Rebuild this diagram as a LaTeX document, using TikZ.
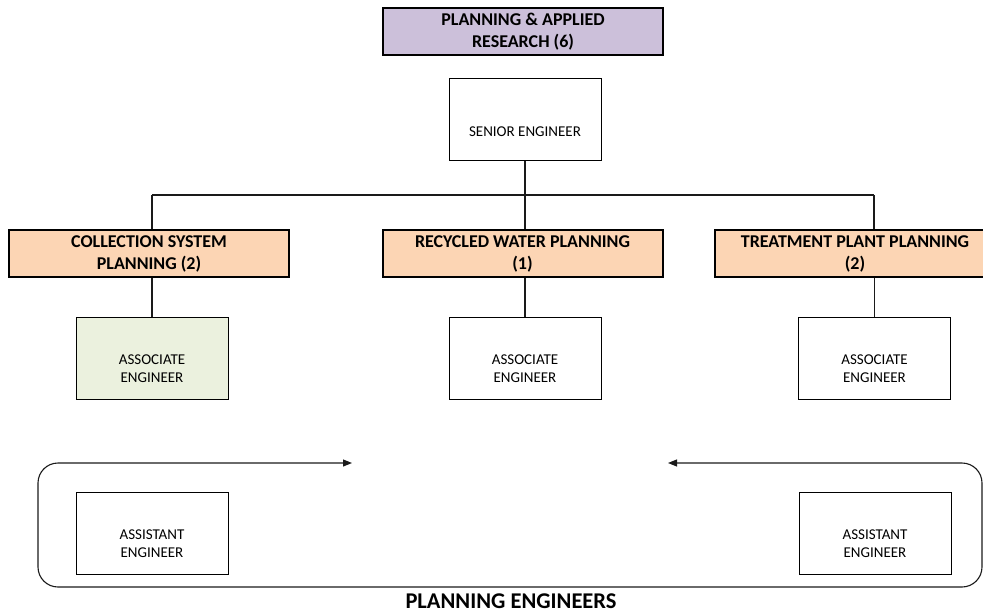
\documentclass[tikz,border=0pt]{standalone}
\usepackage{fontspec}
\setmainfont{Carlito}
\usetikzlibrary{arrows.meta}

\definecolor{headlav}{HTML}{CCC0DA}
\definecolor{headpeach}{HTML}{FCD5B4}
\definecolor{palegreen}{HTML}{EBF1DE}
\definecolor{inkline}{HTML}{1A1A1A}

\tikzset{
  headbox/.style={draw=black, line width=2pt, minimum width=280pt, minimum height=47pt,
    inner sep=0pt, align=center, font=\bfseries\fontsize{18}{22}\selectfont},
  headfill/.style={headbox, fill=headpeach},
  staffbox/.style={draw=black, line width=1pt, fill=white, minimum width=152pt,
    minimum height=82pt, inner sep=0pt},
  stafftext/.style={align=center, font=\fontsize{15}{18}\selectfont},
  link/.style={draw=inkline, line width=1.3pt},
  loopline/.style={draw=inkline, line width=1.1pt, rounded corners=20pt,
    {Triangle[length=9pt,width=7pt]}-{Triangle[length=9pt,width=7pt]}},
}

\begin{document}
\begin{tikzpicture}[x=1pt, y=-1pt]
  \useasboundingbox (0,0) rectangle (983,613);
  \clip (0,0) rectangle (983,613);

  % division heading
  \node[headbox, fill=headlav] (par) at (523,31.5) {PLANNING \& APPLIED\\RESEARCH (6)};

  % senior engineer
  \node[staffbox] (sen) at (525,119) {};
  \node[stafftext] (senT) at (525,132) {SENIOR ENGINEER};

  % group headings
  \node[headfill] (col) at (149,253.5) {COLLECTION SYSTEM\\PLANNING (2)};
  \node[headfill] (rec) at (522.5,253.5) {RECYCLED WATER PLANNING\\(1)};
  \node[headfill] (trt) at (855,253.5) {TREATMENT PLANT PLANNING\\(2)};

  % associate engineers
  \node[staffbox, fill=palegreen] (acol) at (152,358) {};
  \node[stafftext] (acolT) at (152,369) {ASSOCIATE\\ENGINEER};
  \node[staffbox] (arec) at (525,358) {};
  \node[stafftext] (arecT) at (525,369) {ASSOCIATE\\ENGINEER};
  \node[staffbox] (atrt) at (874.5,358) {};
  \node[stafftext] (atrtT) at (874.5,369) {ASSOCIATE\\ENGINEER};

  % assistant engineers
  \node[staffbox] (asL) at (152,533) {};
  \node[stafftext] (asLT) at (152,544) {ASSISTANT\\ENGINEER};
  \node[staffbox] (asR) at (875,533) {};
  \node[stafftext] (asRT) at (875,544) {ASSISTANT\\ENGINEER};

  % reporting lines
  \coordinate (busL) at (152,195);
  \coordinate (busM) at (525,195);
  \coordinate (busR) at (874,195);
  \draw[link] (sen.south) -- (busM);
  \draw[link] (busL) -- (busR);
  \draw[link] (busM) -- (busM |- rec.north);
  \draw[link] (busL) -- (busL |- col.north);
  \draw[link] (busR) -- (busR |- trt.north);
  \draw[link] (acol.north |- col.south) -- (acol.north);
  \draw[link] (arec.north |- rec.south) -- (arec.north);
  \draw[link] (atrt.north |- trt.south) -- (atrt.north);

  % rotation loop between the assistant posts
  \coordinate (tipL) at (352,463);
  \coordinate (tipR) at (668,463);
  \draw[loopline] (tipL) -- (38,463) -- (38,587) -- (982,587) -- (982,463) -- (tipR);

  \node[font=\bfseries\fontsize{22.5}{26}\selectfont, anchor=base, inner sep=0pt] (cap) at (511,608.5) {PLANNING ENGINEERS};
\end{tikzpicture}
\end{document}
